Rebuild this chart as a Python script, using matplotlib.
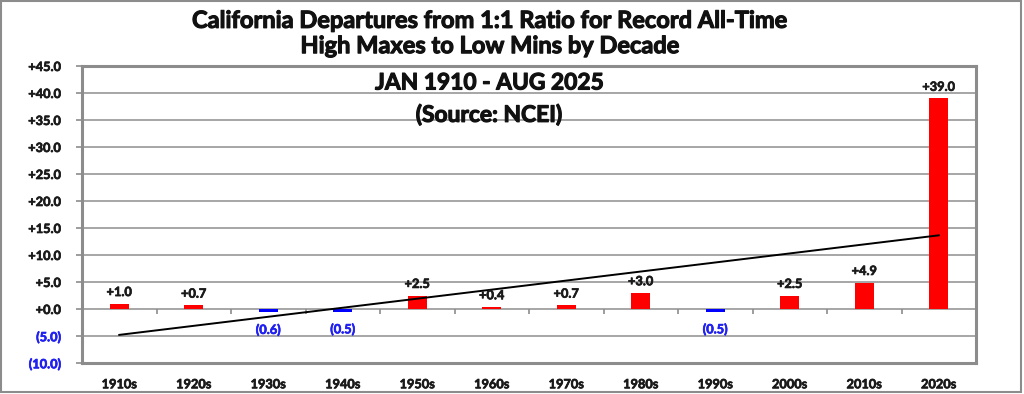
import os
import numpy as np
import matplotlib
matplotlib.use("Agg")
import matplotlib.pyplot as plt
from matplotlib.patches import Rectangle
from matplotlib import font_manager as fm
from matplotlib import patheffects as pe

# ---- data ----
decades = ["1910s", "1920s", "1930s", "1940s", "1950s", "1960s",
           "1970s", "1980s", "1990s", "2000s", "2010s", "2020s"]
departures = [1.0, 0.7, -0.6, -0.5, 2.5, 0.4, 0.7, 3.0, -0.5, 2.5, 4.9, 39.0]
y_ticks = [-10, -5, 0, 5, 10, 15, 20, 25, 30, 35, 40, 45]

title_text = ("California Departures from 1:1 Ratio for Record All-Time\n"
              "High Maxes to Low Mins by Decade")
sub1 = "JAN 1910 - AUG 2025"
sub2 = "(Source: NCEI)"

# locate a real bold font file
bold_path = None
files = fm.findSystemFonts()
for want in ["lato-bold.ttf", "opensans-bold.ttf", "notosans-bold.ttf",
             "roboto-bold.ttf", "liberationsans-bold.ttf"]:
    for f in files:
        if os.path.basename(f).lower() == want:
            bold_path = f
            break
    if bold_path:
        break
if bold_path is None:
    bold_path = fm.findfont(fm.FontProperties(family="DejaVu Sans", weight="bold"))


def FP(size):
    return fm.FontProperties(fname=bold_path, size=size)


def heavy(color, w=0.5):
    return [pe.withStroke(linewidth=w, foreground=color)]


RED = "#FF0000"
BLUE = "#0000FF"
LBLUE = "#2020F0"
GRID = "#A6A6A6"
FRAME = "#8C8C8C"
TXT = "#1a1a1a"

fig = plt.figure(figsize=(10.24, 3.94), dpi=100)
ax = fig.add_axes([82/1024, 1 - 363/394, (976-82)/1024, (363-66)/394])

x = np.arange(len(decades))
vals = np.array(departures)
colors = [RED if v >= 0 else BLUE for v in vals]
ax.bar(x, vals, width=0.25, color=colors, zorder=3)

# trend line (linear fit)
m, b = np.polyfit(x, vals, 1)
ax.plot([x[0], x[-1]], [m*x[0]+b, m*x[-1]+b], color="black", lw=1.4, zorder=4)

# labels
for xi, v in zip(x, vals):
    if v >= 0:
        ax.annotate(f"+{v:.1f}", (xi, v), xytext=(0, 4), textcoords="offset points",
                    ha="center", va="bottom", fontproperties=FP(9.2),
                    color=TXT, zorder=5, path_effects=heavy(TXT))
    else:
        ax.annotate(f"({abs(v):.1f})", (xi, v), xytext=(0, -8), textcoords="offset points",
                    ha="center", va="top", fontproperties=FP(9.2),
                    color=LBLUE, zorder=5, path_effects=heavy(LBLUE))

ax.set_xlim(-0.5, len(decades) - 0.5)
ax.set_ylim(-10, 45)
ax.set_yticks(y_ticks)
ax.set_yticklabels([f"+{t:.1f}" if t >= 0 else f"({abs(t):.1f})" for t in y_ticks])
for lbl, t in zip(ax.get_yticklabels(), y_ticks):
    c = TXT if t >= 0 else LBLUE
    lbl.set_color(c)
    lbl.set_fontproperties(FP(9.2))
    lbl.set_path_effects(heavy(c))
ax.tick_params(axis="y", length=4, width=1.2, color=FRAME, pad=11)

ax.set_xticks(x)
ax.set_xticklabels(decades, color=TXT)
for lbl in ax.get_xticklabels():
    lbl.set_fontproperties(FP(9.2))
    lbl.set_path_effects(heavy(TXT))
ax.tick_params(axis="x", length=0, pad=11)

ax.grid(axis="y", color=GRID, lw=1.4, zorder=0)
ax.set_axisbelow(True)
for s in ax.spines.values():
    s.set_color(FRAME)
    s.set_linewidth(2.2)

# category boundary ticks at zero line
ax.vlines(x[:-1] + 0.5, -0.9, 0, color=FRAME, lw=1.2, zorder=2)

# titles
fig.text(490/1024, 1 - 33/394, title_text, ha="center", va="center",
         fontproperties=FP(17), color="#111111", linespacing=1.12,
         path_effects=heavy("#111111", 0.8))
fig.text(489/1024, 1 - 83/394, sub1, ha="center", va="center",
         fontproperties=FP(16.4), color="#111111",
         path_effects=heavy("#111111", 0.8))
fig.text(489/1024, 1 - 115/394, sub2, ha="center", va="center",
         fontproperties=FP(16.4), color="#111111",
         path_effects=heavy("#111111", 0.8))

# outer border
fig.patches.append(Rectangle((1/1024, 1 - 392/394), 1020/1024, 391/394,
                             transform=fig.transFigure, fill=False,
                             edgecolor=FRAME, lw=1.5))

fig.savefig("out.png", dpi=100, facecolor="white")
